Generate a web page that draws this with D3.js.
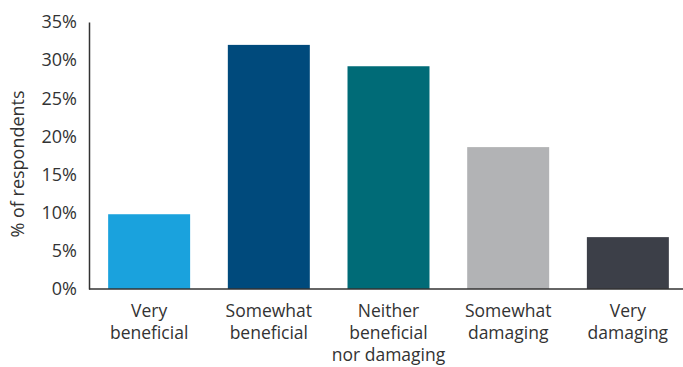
<!DOCTYPE html>
<html>
<head>
<meta charset="utf-8">
<script src="https://cdn.jsdelivr.net/npm/d3@7"></script>
<style>
  html, body { margin: 0; padding: 0; background: #fff; }
  svg text { font-family: "Open Sans", "Noto Sans", sans-serif; fill: #333; }
</style>
</head>
<body>
<svg id="chart" width="683" height="367"></svg>
<script>
// Survey responses: share of respondents per answer
const categories = [
  ["Very", "beneficial"],
  ["Somewhat", "beneficial"],
  ["Neither", "beneficial", "nor damaging"],
  ["Somewhat", "damaging"],
  ["Very", "damaging"]
];
const values = [9.8, 32.0, 29.2, 18.6, 6.8];
const colors = ["#1aa2dd", "#004a7c", "#006b77", "#b2b3b5", "#3c3f48"];
const yTicks = [0, 5, 10, 15, 20, 25, 30, 35];
const yTitle = "% of respondents";

const svg = d3.select("#chart");
const margin = { left: 89, top: 22, bottom: 78 };
const height = 367;

const x = d3.scaleBand()
  .domain(d3.range(values.length))
  .range([margin.left, 688])
  .paddingInner(0.315)
  .paddingOuter(0.16);

const y = d3.scaleLinear()
  .domain([0, 35])
  .range([height - margin.bottom, margin.top]);

// bars
svg.append("g")
  .selectAll("rect")
  .data(values)
  .join("rect")
  .attr("x", (d, i) => x(i))
  .attr("y", d => y(d))
  .attr("width", x.bandwidth())
  .attr("height", d => y(0) - y(d))
  .attr("fill", (d, i) => colors[i]);

// y axis
const yAxis = svg.append("g")
  .attr("transform", `translate(${margin.left},0)`)
  .call(d3.axisLeft(y).tickValues(yTicks).tickSize(0).tickPadding(12).tickFormat(d => d + "%"));
yAxis.select(".domain").attr("stroke", "#333").attr("stroke-width", 1.5);
yAxis.selectAll("text").attr("font-size", 18).attr("fill", "#333");

// x axis
const xAxis = svg.append("g")
  .attr("transform", `translate(0,${y(0)})`)
  .call(d3.axisBottom(x).tickSize(0).tickFormat(""));
xAxis.select(".domain").attr("stroke", "#333").attr("stroke-width", 1.5)
  .attr("d", `M${margin.left},0H683`);

// multi-line category labels
xAxis.selectAll(".tick").each(function (d) {
  const t = d3.select(this).append("text")
    .attr("text-anchor", "middle")
    .attr("font-size", 17.5)
    .attr("fill", "#333");
  categories[d].forEach((line, k) => {
    t.append("tspan").attr("x", 0).attr("y", 28 + k * 22).text(line);
  });
});

// y axis title
svg.append("text")
  .attr("transform", `translate(24,164) rotate(-90)`)
  .attr("text-anchor", "middle")
  .attr("font-size", 18)
  .text(yTitle);
</script>
</body>
</html>
